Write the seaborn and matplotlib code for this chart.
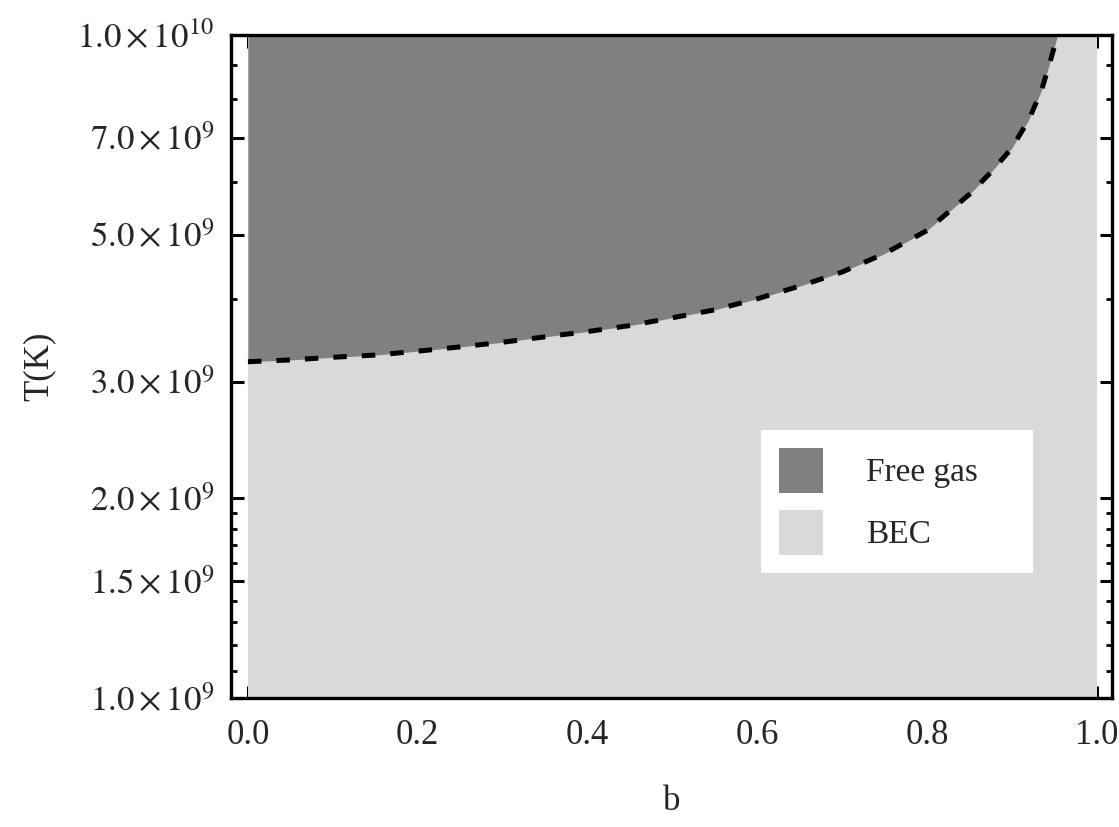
import numpy as np
import pandas as pd
import matplotlib
matplotlib.use("Agg")
import matplotlib.pyplot as plt
import seaborn as sns
from matplotlib.patches import Patch
from matplotlib.ticker import FixedLocator, NullFormatter, MultipleLocator

# ---- data ----
b_vals = [0.0, 0.05, 0.1, 0.15, 0.2, 0.25, 0.3, 0.35, 0.4, 0.45, 0.5, 0.55,
          0.6, 0.65, 0.7, 0.75, 0.8, 0.825, 0.85, 0.875, 0.9, 0.92, 0.935,
          0.945, 0.954]
T_vals = [3.215e9, 3.235e9, 3.265e9, 3.29e9, 3.335e9, 3.385e9, 3.44e9,
          3.505e9, 3.57e9, 3.645e9, 3.745e9, 3.85e9, 4.0e9, 4.18e9, 4.39e9,
          4.68e9, 5.07e9, 5.40e9, 5.75e9, 6.2e9, 6.75e9, 7.45e9, 8.25e9,
          9.1e9, 1.0e10]
y_major = [1.0e9, 1.5e9, 2.0e9, 3.0e9, 5.0e9, 7.0e9, 1.0e10]
y_major_labels = [r"$1.0\times10^{9}$", r"$1.5\times10^{9}$", r"$2.0\times10^{9}$",
                  r"$3.0\times10^{9}$", r"$5.0\times10^{9}$", r"$7.0\times10^{9}$",
                  r"$1.0\times10^{10}$"]
y_minor = [1.1e9, 1.2e9, 1.3e9, 1.4e9, 1.6e9, 1.7e9, 1.8e9, 1.9e9, 4.0e9,
           6.0e9, 8.0e9, 9.0e9]
x_major = [0.0, 0.2, 0.4, 0.6, 0.8, 1.0]
x_major_labels = ["0.0", "0.2", "0.4", "0.6", "0.8", "1.0"]
legend_labels = ["Free gas", "BEC"]
b_range = [0.0, 1.0]
T_range = [1.0e9, 1.0e10]

dark = "#808080"
light = "#d9d9d9"

sns.set_theme(style="white")
plt.rcParams["font.family"] = ["Liberation Serif", "DejaVu Serif"]
plt.rcParams["mathtext.fontset"] = "stix"

fig = plt.figure(figsize=(11.19, 8.27), dpi=100)
ax = fig.add_axes([0.2064, 0.156, 0.7873, 0.8017])

df = pd.DataFrame({"b": b_vals, "T": T_vals})

# regions
ax.fill_between(b_range, [T_range[0]] * 2, [T_range[1]] * 2, color=light, lw=0, zorder=1)
ax.fill_between(df["b"], df["T"], T_range[1], color=dark, lw=0, zorder=2)

# boundary curve
sns.lineplot(data=df, x="b", y="T", ax=ax, color="black", lw=3.6,
             dashes=False, zorder=3, sort=False)
ax.lines[-1].set_dashes([2.7, 3.0])

ax.set_yscale("log")
ax.set_xlim(-0.02, 1.018)
ax.set_ylim(*T_range)

ax.yaxis.set_major_locator(FixedLocator(y_major))
ax.set_yticklabels(y_major_labels)
ax.yaxis.set_minor_locator(FixedLocator(y_minor))
ax.yaxis.set_minor_formatter(NullFormatter())
ax.xaxis.set_major_locator(FixedLocator(x_major))
ax.set_xticklabels(x_major_labels)
ax.xaxis.set_minor_locator(MultipleLocator(0.05))

ax.tick_params(which="both", direction="in", top=True, right=True,
               bottom=True, left=True, color="black", labelsize=25)
ax.tick_params(which="major", length=9, width=2.2)
ax.tick_params(which="minor", length=4.5, width=2.0)
ax.tick_params(axis="y", which="major", pad=12)
ax.tick_params(axis="x", which="major", pad=15)

for s in ax.spines.values():
    s.set_visible(True)
    s.set_color("black")
    s.set_linewidth(2.4)

ax.set_xlabel("b", fontsize=25, labelpad=24)
ax.set_ylabel("T(K)", fontsize=25, labelpad=16)

handles = [Patch(facecolor=dark, edgecolor="none"),
           Patch(facecolor=light, edgecolor="none")]
leg = ax.legend(handles, legend_labels, loc="lower left",
                bbox_to_anchor=(0.6016, 0.1885, 0.3088, 0.2262), mode="expand",
                fontsize=24,
                frameon=True, fancybox=False, framealpha=1.0,
                facecolor="white", edgecolor="none",
                handlelength=1.3, handleheight=1.7, handletextpad=1.3,
                borderpad=0.55, labelspacing=0.5, borderaxespad=0)
leg.set_zorder(5)

fig.savefig("out.png", dpi=100)
